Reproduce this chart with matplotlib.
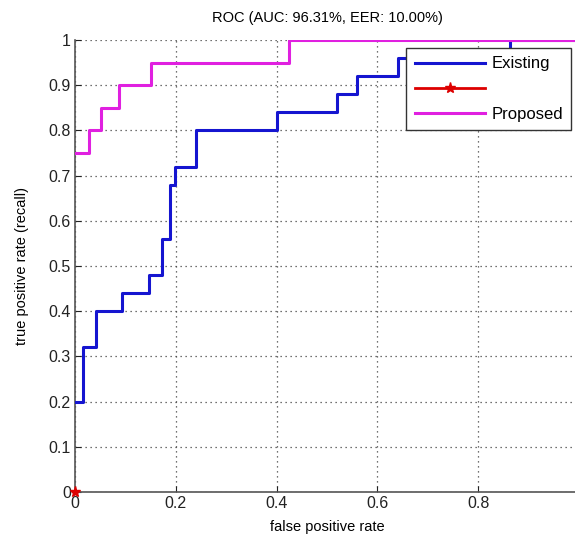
import matplotlib
matplotlib.use('Agg')
import matplotlib.pyplot as plt

plt.rcParams['font.family'] = ['Liberation Sans', 'DejaVu Sans']

# ROC 阶梯点 (fpr, tpr)
existing_fpr = [0, 0.015, 0.041, 0.094, 0.147, 0.172, 0.188, 0.198, 0.24, 0.401, 0.519, 0.56, 0.641, 0.863, 1.0]
existing_tpr = [0.20, 0.32, 0.40, 0.44, 0.48, 0.56, 0.68, 0.72, 0.80, 0.84, 0.88, 0.92, 0.96, 1.0, 1.0]

proposed_fpr = [0, 0.028, 0.051, 0.088, 0.150, 0.425, 1.0]
proposed_tpr = [0.75, 0.80, 0.85, 0.90, 0.95, 1.0, 1.0]

eer_fpr = [0]
eer_tpr = [0]

xticks = [0, 0.2, 0.4, 0.6, 0.8, 1.0]
xtick_labels = ['0', '0.2', '0.4', '0.6', '0.8', '']
yticks = [0, 0.1, 0.2, 0.3, 0.4, 0.5, 0.6, 0.7, 0.8, 0.9, 1.0]
ytick_labels = ['0', '0.1', '0.2', '0.3', '0.4', '0.5', '0.6', '0.7', '0.8', '0.9', '1']

fig = plt.figure(figsize=(5.75, 5.42), dpi=100)
ax = fig.add_axes([75 / 575, 50 / 542, 504 / 575, 452 / 542])

ax.plot(existing_fpr, existing_tpr, drawstyle='steps-post', color='#1515d0', lw=2.2, label='Existing', zorder=3)
ax.plot(eer_fpr, eer_tpr, color='#dd0000', lw=2, marker='*', markersize=8, label=' ', zorder=5, clip_on=False)
ax.plot(proposed_fpr, proposed_tpr, drawstyle='steps-post', color='#e020e0', lw=2.2, label='Proposed', zorder=4)

ax.set_xlim(0, 1)
ax.set_ylim(0, 1)
ax.set_xticks(xticks)
ax.set_xticklabels(xtick_labels)
ax.set_yticks(yticks)
ax.set_yticklabels(ytick_labels)
ax.tick_params(direction='in', length=4, labelsize=11.5, colors='#222222', pad=3)
ax.grid(True, linestyle=(0, (1, 3)), color='#444444', lw=0.9)

for s in ['top', 'right']:
    ax.spines[s].set_visible(False)
for s in ['left', 'bottom']:
    ax.spines[s].set_color('#555555')
    ax.spines[s].set_linewidth(1.2)

ax.set_title('ROC (AUC: 96.31%, EER: 10.00%)', fontsize=10.5, pad=13)
ax.set_xlabel('false positive rate', fontsize=10.5, labelpad=6)
ax.set_ylabel('true positive rate (recall)', fontsize=10.5, labelpad=14)

leg = ax.legend(loc='upper right', bbox_to_anchor=(0.985, 0.982), borderaxespad=0, fontsize=12, fancybox=False,
                framealpha=1, edgecolor='#333333', handlelength=4.2, handletextpad=0.4,
                borderpad=0.5, labelspacing=0.62)
leg.get_frame().set_linewidth(1.0)

plt.savefig('out.png', dpi=100)
